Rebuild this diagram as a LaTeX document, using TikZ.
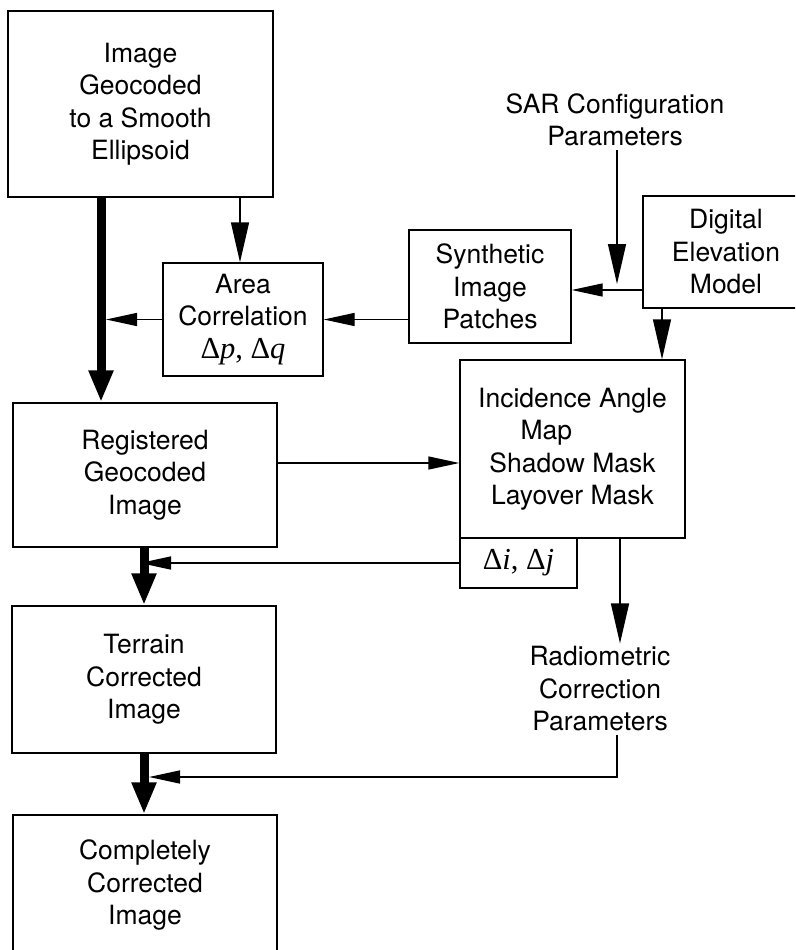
\documentclass[tikz,border=0pt]{standalone}
\usepackage{fontspec}
\setmainfont{TeX Gyre Heros}
\newfontfamily\tms[Scale=1.15]{Liberation Serif}
\usetikzlibrary{arrows.meta}
\begin{document}
\begin{tikzpicture}[x=1pt,y=-1pt,
  box/.style={draw, line width=1.4pt, align=center, inner sep=0pt,
    font=\fontsize{26.5}{32.5}\selectfont},
  lbl/.style={align=center, inner sep=3pt, font=\fontsize{26.5}{32.5}\selectfont},
  conn/.style={line width=1.4pt},
  varrow/.style={conn, -{Triangle[length=40pt,width=18pt]}},
  harrow/.style={conn, -{Triangle[length=31pt,width=13pt]}},
  thickarrow/.style={line width=9pt, -{Triangle[length=32pt,width=23pt]}}]
\useasboundingbox (0,0) rectangle (795,950);
\clip (0,0) rectangle (795,950);
\fill[white] (0,0) rectangle (795,950);

% boxes
\node[box, minimum width=265pt, minimum height=186pt] (img) at (140.5,104)
  {Image\\Geocoded\\to a Smooth\\Ellipsoid};
\node[box, minimum width=160pt, minimum height=113pt] (area) at (243,319.5)
  {Area\\Correlation\\{\tms Δ\textit{p}, Δ\textit{q}}};
\node[box, minimum width=162pt, minimum height=113pt] (syn) at (490,286.5)
  {Synthetic\\Image\\Patches};
\node[box, minimum width=166pt, minimum height=112pt] (dem) at (726,252)
  {Digital\\Elevation\\Model};
\node[box, minimum width=225pt, minimum height=178pt] (inc) at (572.5,449)
  {Incidence Angle\\\makebox[104pt][l]{Map}\\Shadow Mask\\Layover Mask};
\node[box, minimum width=117pt, minimum height=50pt] (dij) at (518.5,563)
  {{\tms Δ\textit{i}, Δ\textit{j}}};
\node[box, minimum width=264pt, minimum height=144pt] (reg) at (145,475)
  {Registered\\Geocoded\\Image};
\node[box, minimum width=264pt, minimum height=147pt] (ter) at (144,679.5)
  {Terrain\\Corrected\\Image};
\node[box, minimum width=264pt, minimum height=140pt] (comp) at (145,885)
  {Completely\\Corrected\\Image};

% free labels
\node[lbl] (sar) at (615,120) {SAR Configuration\\Parameters};
\node[lbl] (rad) at (600,689) {Radiometric\\Correction\\Parameters};

% helper coordinates
\coordinate (ta) at (101,0);
\coordinate (tb) at (240,0);
\coordinate (tc) at (617,290);
\coordinate (td) at (662,0);
\coordinate (te) at (0,463);
\coordinate (tf) at (144,0);
\coordinate (tg) at (620,0);
\coordinate (th) at (149,777);
\coordinate (ti) at (617,0);

% connectors
\draw[thickarrow] (ta |- img.south) -- (ta |- reg.north);
\draw[varrow] (tb |- img.south) -- (tb |- area.north);
\draw[harrow, shorten >=5pt] (area.west) -- (ta |- area.west);
\draw[harrow] (syn.west |- area.east) -- (area.east);
\draw[harrow] (dem.west |- tc) -- (syn.east |- tc);
\draw[varrow, shorten >=6pt] (tc |- sar.south) -- (tc);
\draw[varrow] (td |- dem.south) -- (td |- inc.north);
\draw[harrow] (reg.east |- te) -- (inc.west |- te);
\draw[harrow, shorten >=-4pt] (dij.west) -- (tf |- dij.west);
\draw[thickarrow] (tf |- reg.south) -- (tf |- ter.north);
\draw[varrow] (tg |- inc.south) -- (tg |- rad.north);
\draw[harrow] (ti |- rad.south) -- (ti |- th) -- (th);
\draw[thickarrow] (tf |- ter.south) -- (tf |- comp.north);
\end{tikzpicture}
\end{document}
